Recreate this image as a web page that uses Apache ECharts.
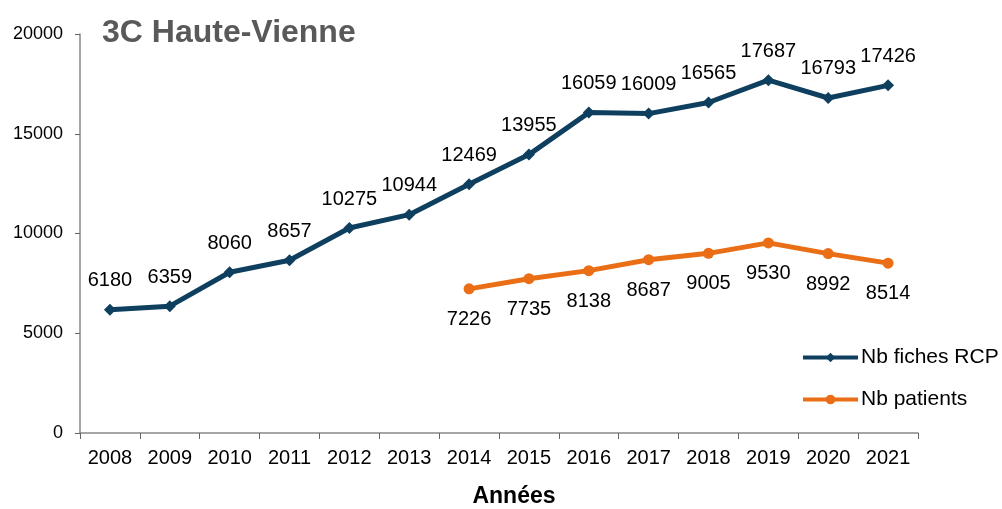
<!DOCTYPE html>
<html><head><meta charset="utf-8">
<script src="https://cdn.jsdelivr.net/npm/echarts@6/dist/echarts.min.js"></script>
<style>html,body{margin:0;padding:0;background:#fff}#c{width:1002px;height:509px}</style>
</head><body><div id="c"></div>
<script>
const years = ['2008','2009','2010','2011','2012','2013','2014','2015','2016','2017','2018','2019','2020','2021'];
const fichesRCP = [6180,6359,8060,8657,10275,10944,12469,13955,16059,16009,16565,17687,16793,17426];
const patients = [null,null,null,null,null,null,7226,7735,8138,8687,9005,9530,8992,8514];
const chart = echarts.init(document.getElementById('c'));
const font = 'Liberation Sans, Arial, sans-serif';
chart.setOption({
  animation:false,
  textStyle:{fontFamily:font},
  title:{text:'3C Haute-Vienne',left:97,top:12,textStyle:{fontSize:32,fontWeight:'bold',color:'#595959',fontFamily:font}},
  grid:{left:80,right:84,top:34,bottom:76,outerBoundsMode:'none',containLabel:false},
  legend:{orient:'vertical',left:796,top:342,itemWidth:55,itemHeight:12,itemGap:21,
    lineStyle:{width:4},
    textStyle:{fontSize:21,color:'#000',fontFamily:font,padding:[0,0,0,-2]},
    data:['Nb fiches RCP','Nb patients']},
  xAxis:{type:'category',data:years,boundaryGap:true,
    axisLine:{lineStyle:{color:'#888',width:1.5}},
    axisTick:{show:true,alignWithLabel:false,length:6,lineStyle:{color:'#666'}},
    axisLabel:{fontSize:20,color:'#000',margin:15,fontFamily:font},
    name:'Années',nameLocation:'middle',nameGap:52,
    nameTextStyle:{fontSize:23,fontWeight:'bold',color:'#000',fontFamily:font,padding:[0,0,0,30]}},
  yAxis:{type:'value',min:0,max:20000,interval:5000,
    axisLine:{show:true,lineStyle:{color:'#888',width:1.5}},
    axisTick:{show:true,length:5,lineStyle:{color:'#666'}},
    splitLine:{show:false},
    axisLabel:{fontSize:18,color:'#000',margin:17,fontFamily:font,formatter:v=>String(v)}},
  series:[
    {name:'Nb fiches RCP',type:'line',data:fichesRCP,
      lineStyle:{color:'#0e3f5f',width:5},itemStyle:{color:'#0e3f5f'},
      symbol:'diamond',symbolSize:12,
      label:{show:true,position:'top',distance:13,fontSize:20,color:'#000',fontFamily:font}},
    {name:'Nb patients',type:'line',data:patients,
      lineStyle:{color:'#ea6e15',width:5},itemStyle:{color:'#ea6e15'},
      symbol:'circle',symbolSize:11,
      label:{show:true,position:'bottom',distance:15,fontSize:20,color:'#000',fontFamily:font}}
  ]
});
</script></body></html>
